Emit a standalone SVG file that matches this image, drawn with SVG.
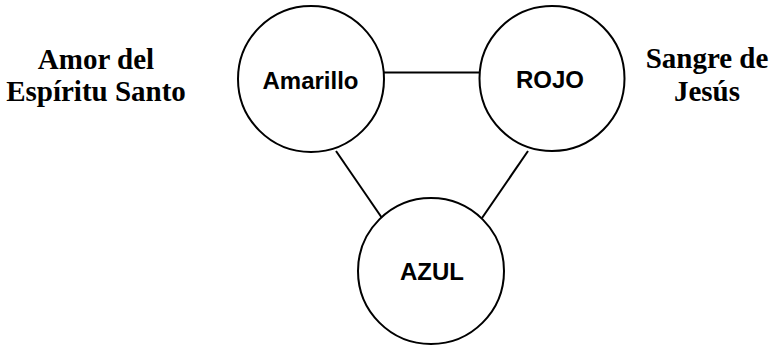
<svg xmlns="http://www.w3.org/2000/svg" width="772" height="345" viewBox="0 0 772 345">
<style>
.c{fill:#fff;stroke:#000;stroke-width:2}
.l{stroke:#000;stroke-width:2;fill:none}
.n{font-family:"Liberation Sans",Arial,sans-serif;font-weight:bold;font-size:24px;text-anchor:middle;fill:#000}
.t{font-family:"Liberation Serif","Times New Roman",serif;font-weight:bold;font-size:29px;text-anchor:middle;fill:#000}
</style>
<rect width="772" height="345" fill="#fff"/>
<g id="connectors">
<line class="l" x1="384" y1="72.5" x2="479" y2="72.5"/>
<line class="l" x1="336" y1="151" x2="382" y2="218"/>
<line class="l" x1="528" y1="151" x2="482" y2="218"/>
</g>
<g id="amarillo">
<circle class="c" cx="311" cy="79" r="73"/>
<text class="n" x="310.5" y="89">Amarillo</text>
</g>
<g id="rojo">
<circle class="c" cx="552" cy="78.5" r="72.5"/>
<text class="n" x="550" y="88">ROJO</text>
</g>
<g id="azul">
<circle class="c" cx="431" cy="271" r="73"/>
<text class="n" x="432" y="280">AZUL</text>
</g>
<g id="label-left">
<text class="t" x="96" y="69">Amor del</text>
<text class="t" x="96" y="101">Espíritu Santo</text>
</g>
<g id="label-right">
<text class="t" x="707" y="68">Sangre de</text>
<text class="t" x="707" y="101">Jesús</text>
</g>
</svg>
